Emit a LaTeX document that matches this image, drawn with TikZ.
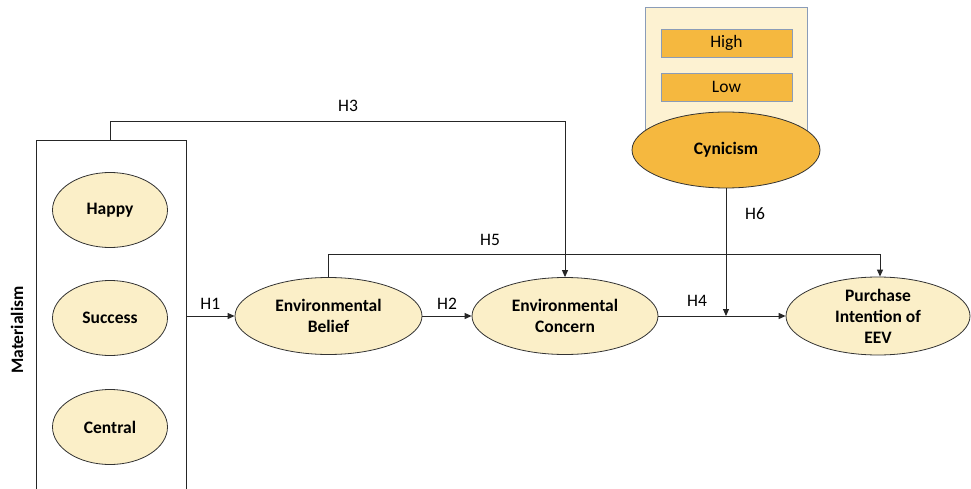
\documentclass[tikz,border=0pt]{standalone}
\usepackage{fontspec}
\setmainfont{Carlito}
\usetikzlibrary{shapes.geometric,arrows.meta}
\definecolor{cream}{HTML}{FBEFC8}
\definecolor{panel}{HTML}{FDF2D2}
\definecolor{orng}{HTML}{F5B83F}
\definecolor{bgray}{HTML}{8A9CB8}
\tikzset{
  ell/.style={ellipse,draw=black!80,fill=cream,line width=0.8pt,minimum width=#1,minimum height=77pt,inner sep=0pt,align=center,font=\fontsize{17.5}{21}\selectfont\bfseries},
  lab/.style={font=\fontsize{17.5}{21}\selectfont},
  conn/.style={draw=black!85,line width=0.9pt},
  arr/.style={conn,-{Triangle[length=7pt,width=6pt]}},
  lvl/.style={rectangle,draw=bgray,fill=orng,line width=0.8pt,minimum width=131pt,minimum height=28pt,inner sep=0pt,font=\fontsize{17.5}{21}\selectfont}
}
\begin{document}
\begin{tikzpicture}[x=1pt,y=-1pt]
\useasboundingbox (0,0) rectangle (971,489);
\fill[white] (0,0) rectangle (971,489);
% Materialism box
\draw[conn] (36,500) -- (36,140) -- (186,140) -- (186,500);
\coordinate (mtop) at (110,140);
\coordinate (mright) at (186,316);
\node[rotate=90,font=\fontsize{17.5}{21}\selectfont\bfseries] (mat) at (17,330) {Materialism};
\node[ell=115pt,minimum height=75pt] (happy) at (110,210) {Happy};
\node[ell=115pt,minimum height=75pt] (success) at (110,318) {Success};
\node[ell=115pt,minimum height=75pt] (central) at (110,427) {Central};
% Cynicism panel
\node[draw=bgray,fill=panel,line width=0.8pt,minimum width=162pt,minimum height=125pt,inner sep=0pt] (panel) at (726,69.5) {};
\node[lvl] (high) at (726.5,43) {High};
\node[lvl] (low) at (726.5,87) {Low};
\node[ell=188pt,minimum height=76pt,fill=orng] (cyn) at (726,150) {Cynicism};
% main ellipses
\node[ell=187pt] (belief) at (328.5,316) {Environmental\\Belief};
\node[ell=186pt] (concern) at (565,316) {Environmental\\Concern};
\node[ell=184pt,minimum height=78pt] (pie) at (878,316) {Purchase\\Intention of\\EEV};
% connectors
\draw[arr] (mright) -- (belief.west) node[lab,midway,above=3pt] (h1) {H1};
\draw[arr] (belief.east) -- (concern.west) node[lab,midway,above=3pt] (h2) {H2};
\coordinate (h4join) at (cyn.south |- pie.west);
\draw[arr] (concern.east) -- (pie.west);
\node[lab] (h4) at (697,301) {H4};
\draw[arr] (cyn.south) -- (h4join);
\node[lab] (h6) at (755,214) {H6};
\draw[arr] (mtop) -- (110,121) -- (565,121) -- (concern.north);
\node[lab] (h3) at (348,106) {H3};
\draw[arr] (belief.north) -- (328.5,254) -- (880,254) -- (pie.north -| 880,0);
\node[lab] (h5) at (490,240) {H5};
\end{tikzpicture}
\end{document}
